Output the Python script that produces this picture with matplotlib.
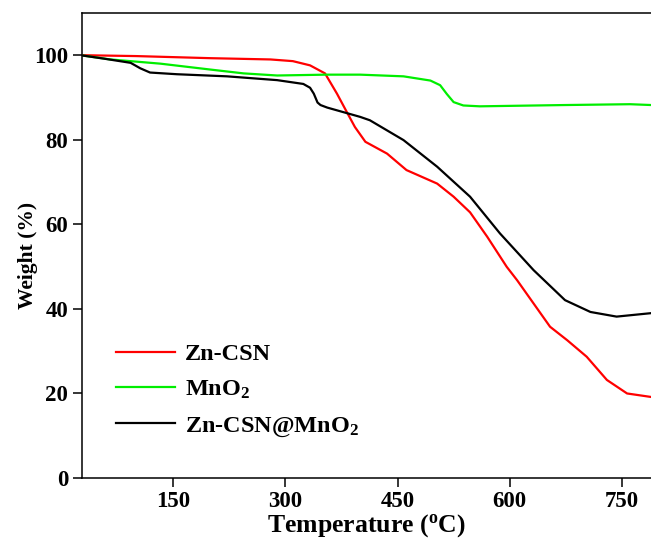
import matplotlib
matplotlib.use('Agg')
import matplotlib.pyplot as plt

# TGA curves, values
temp_zn = [30, 100, 200, 280, 310, 333, 353, 369, 382, 393, 407, 436, 462, 503,
           525, 547, 570, 596, 610, 632, 654, 677, 703, 730, 757, 788]
weight_zn = [100, 99.8, 99.3, 99.0, 98.6, 97.6, 95.7, 90.9, 86.6, 83.0, 79.5, 76.7, 72.8, 69.6,
             66.5, 62.8, 57.0, 49.9, 46.7, 41.2, 35.7, 32.5, 28.6, 23.1, 19.9, 19.1]

temp_mn = [30, 66, 133, 200, 244, 289, 355, 400, 458, 494, 507, 516, 525, 538,
           560, 672, 761, 790]
weight_mn = [99.9, 99.0, 98.0, 96.6, 95.7, 95.2, 95.4, 95.4, 95.0, 94.0, 92.9, 90.8, 88.9, 88.1,
             87.9, 88.2, 88.4, 88.2]

temp_comp = [30, 57, 93, 106, 119, 155, 222, 289, 324, 333, 338, 343, 347, 356,
             400, 413, 458, 503, 547, 587, 632, 674, 708, 743, 788]
weight_comp = [99.9, 99.2, 98.2, 96.9, 95.9, 95.5, 95.0, 94.1, 93.2, 92.3, 90.9, 88.8, 88.2, 87.6,
               85.4, 84.6, 79.9, 73.6, 66.5, 57.8, 49.1, 42.0, 39.2, 38.1, 38.9]

labels = ['Zn-CSN', 'MnO$_2$', 'Zn-CSN@MnO$_2$']
colors = ['#ff0000', '#00ee00', '#000000']
x_ticks = [150, 300, 450, 600, 750]
y_ticks = [0, 20, 40, 60, 80, 100]

plt.rcParams['font.family'] = 'Liberation Serif'
plt.rcParams['font.weight'] = 'bold'
plt.rcParams['mathtext.fontset'] = 'custom'
plt.rcParams['mathtext.rm'] = 'Liberation Serif:bold'
plt.rcParams['mathtext.it'] = 'Liberation Serif:bold'
plt.rcParams['mathtext.bf'] = 'Liberation Serif:bold'

fig = plt.figure(figsize=(6.51, 5.47), dpi=100)
ax = fig.add_axes([82 / 651, 1 - 477.5 / 547, 1 - 82 / 651, (477.5 - 13) / 547])

series = [(temp_zn, weight_zn), (temp_mn, weight_mn), (temp_comp, weight_comp)]
for (t, w), lab, c in zip(series, labels, colors):
    ax.plot(t, w, color=c, lw=1.6, label=lab)

ax.set_xlim(28, 789)
ax.set_ylim(0, 110)
ax.set_xticks(x_ticks)
ax.set_yticks(y_ticks)
ax.tick_params(direction='out', length=6.5, width=1.1, labelsize=16.5)
ax.spines['right'].set_visible(False)
for s in ['left', 'bottom', 'top']:
    ax.spines[s].set_linewidth(1.1)

ax.set_xlabel('Temperature ($^\\mathrm{o}$C)', fontsize=18.5, fontweight='bold', labelpad=0)
ax.set_ylabel('Weight (%)', fontsize=15.5, fontweight='bold')
ax.yaxis.set_label_coords(-0.077, 0.477)

ax.legend(loc='upper left', bbox_to_anchor=(0.042, 0.31), frameon=False,
          fontsize=17.5, handlelength=2.45, handletextpad=0.4, labelspacing=0.56,
          borderaxespad=0)

fig.savefig('out.png', dpi=100)
